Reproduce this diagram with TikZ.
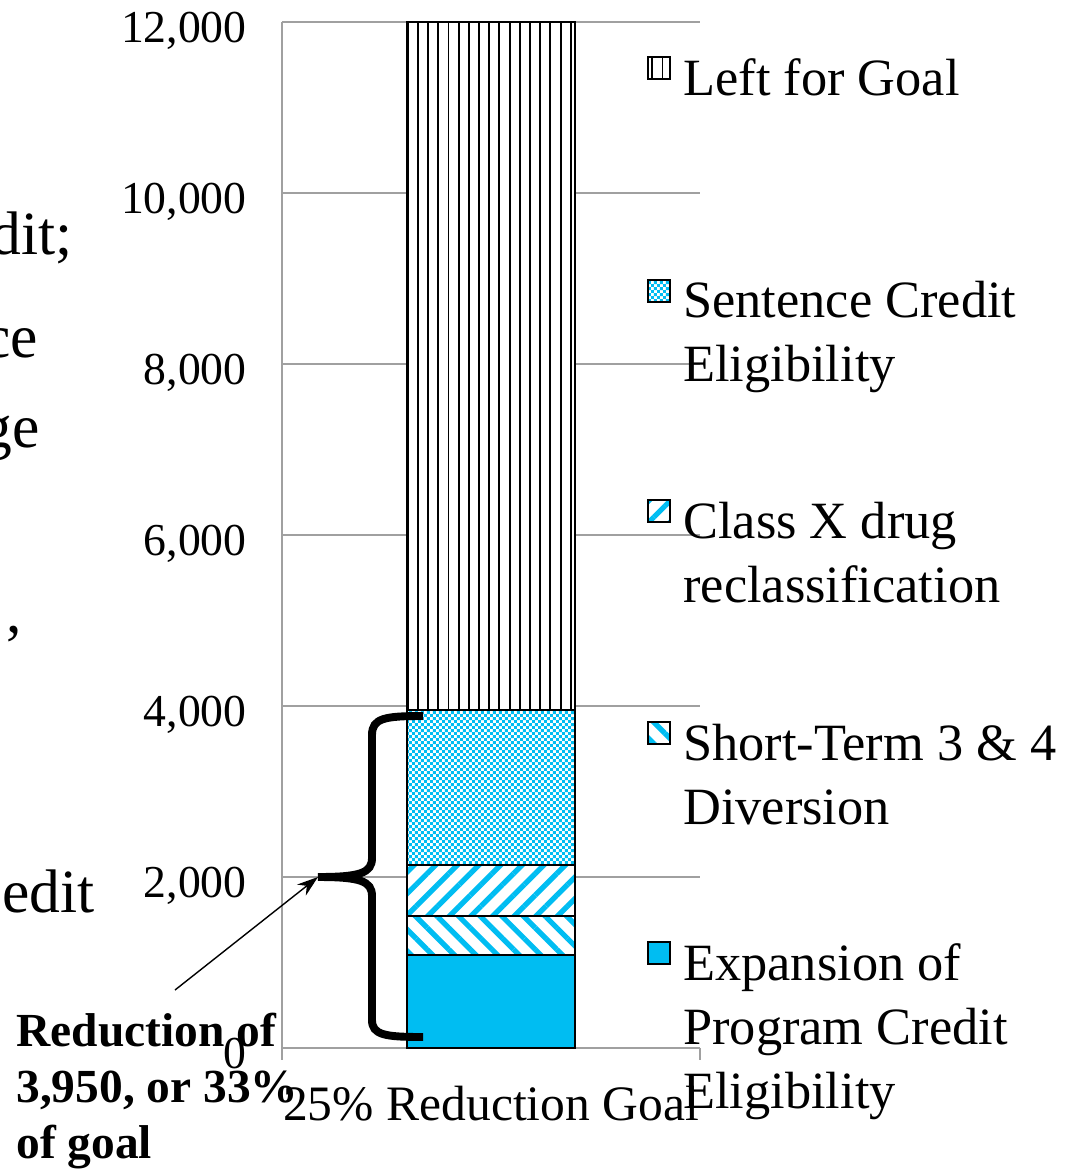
\documentclass[tikz,border=0pt]{standalone}
\usepackage{fontspec}
\setmainfont{Liberation Serif}
\usetikzlibrary{positioning, arrows.meta, patterns, patterns.meta, calc}
\definecolor{barcyan}{RGB}{0,189,242}
\definecolor{gridgray}{RGB}{160,160,160}
\pgfdeclarepatternformonly{finechecker}{\pgfpointorigin}{\pgfqpoint{3.4pt}{3.4pt}}{\pgfqpoint{3.4pt}{3.4pt}}{%
  \pgfpathrectangle{\pgfpointorigin}{\pgfqpoint{1.7pt}{1.7pt}}%
  \pgfpathrectangle{\pgfqpoint{1.7pt}{1.7pt}}{\pgfqpoint{1.7pt}{1.7pt}}%
  \pgfusepath{fill}}
\tikzset{
  gridline/.style={draw=gridgray, line width=1.1pt},
  barline/.style={draw=black, line width=1.1pt},
  leftfill/.style={preaction={fill=white}, pattern={Lines[angle=90, distance=5.8pt, line width=1.1pt]}, pattern color=black},
  sentfill/.style={preaction={fill=white}, pattern=finechecker, pattern color=barcyan},
  classfill/.style={preaction={fill=white}, pattern={Lines[angle=45, distance=8.7pt, line width=3pt]}, pattern color=barcyan},
  shortfill/.style={preaction={fill=white}, pattern={Lines[angle=-45, distance=8.7pt, line width=3pt]}, pattern color=barcyan},
  expfill/.style={fill=barcyan},
  swatch/.style={draw=black, line width=1pt, minimum size=12.5pt, inner sep=0pt},
  legtext/.style={anchor=base west, align=left, inner sep=0pt, font=\fontsize{29.8}{36.3}\selectfont},
  ticklab/.style={anchor=base east, inner sep=0pt, font=\fontsize{26}{31}\selectfont},
  notetext/.style={anchor=base west, align=left, inner sep=0pt, font=\fontsize{27}{31.7}\selectfont\bfseries},
  slidetext/.style={anchor=base east, inner sep=0pt, font=\fontsize{35}{42}\selectfont}
}

\begin{document}
\begin{tikzpicture}[x=0.2mm, y=-0.2mm]
  \useasboundingbox (0,0) rectangle (1075,1171);

  % Cut-off slide text at the left edge
  \node[slidetext] (frag1) at (73,255) {dit;};
  \node[slidetext] (frag2) at (38,357) {ce};
  \node[slidetext] (frag3) at (40,447) {ge};
  \node[slidetext] (frag4) at (22,632) {,};
  \node[slidetext] (frag5) at (95,912) {edit};

  % Gridlines and axes
  \foreach \v in {2000,4000,...,12000}
    \draw[gridline] (282,{1048-0.0855*\v}) -- (700,{1048-0.0855*\v});
  \draw[gridline] (282,22) -- (282,1060);
  \draw[gridline] (282,1048) -- (700,1048);
  \draw[gridline] (700,1048) -- (700,1060);

  % Tick labels
  \foreach \v/\lab in {0/0, 2000/{2,000}, 4000/{4,000}, 6000/{6,000}, 8000/{8,000}, 10000/{10,000}, 12000/{12,000}}
    \node[ticklab] (tick\v) at (247,{1068-0.0855*\v}) {\lab};
  \node[ticklab, anchor=base, font=\fontsize{28.2}{33}\selectfont] (catlab) at (491,1120) {25\% Reduction Goal};

  % Stacked bar
  \path[expfill] (407,1048) rectangle (575,{1048-0.0855*1090});
  \path[shortfill] (407,{1048-0.0855*1090}) rectangle (575,{1048-0.0855*1540});
  \path[classfill] (407,{1048-0.0855*1540}) rectangle (575,{1048-0.0855*2140});
  \path[sentfill] (407,{1048-0.0855*2140}) rectangle (575,{1048-0.0855*3950});
  \path[leftfill] (407,{1048-0.0855*3950}) rectangle (575,22);
  \foreach \lo/\hi in {0/1090, 1090/1540, 1540/2140, 2140/3950, 3950/12000}
    \draw[barline] (407,{1048-0.0855*\lo}) rectangle (575,{1048-0.0855*\hi});

  % Legend (base = last line)
  \node[swatch, leftfill] (sw1) at (659,68) {};
  \node[legtext] (leg1) at (683,96) {Left for Goal};
  \node[swatch, sentfill] (sw2) at (659,291) {};
  \node[legtext] (leg2) at (683,381) {Sentence Credit\\Eligibility};
  \node[swatch, classfill] (sw3) at (659,511) {};
  \node[legtext] (leg3) at (683,602) {Class X drug\\reclassification};
  \node[swatch, shortfill] (sw4) at (659,733) {};
  \node[legtext] (leg4) at (683,824) {Short-Term 3 \& 4\\Diversion};
  \node[swatch, expfill] (sw5) at (659,953) {};
  \node[legtext] (leg5) at (683,1108) {Expansion of\\Program Credit\\Eligibility};

  % Brace over the reduction and its note
  \coordinate (bracetip) at (318,877);
  \draw[line width=4.5pt] (423,716) .. controls (385,716) and (372,718) .. (372,735) -- (372,858)
    .. controls (372,873) and (360,877) .. (bracetip)
    .. controls (360,877) and (372,881) .. (372,896) -- (372,1020)
    .. controls (372,1035) and (385,1037) .. (423,1037);
  \node[notetext] (note) at (16,1158) {Reduction of\\3,950, or 33\%\\of goal};
  \coordinate (arrstart) at (175,990);
  \draw[line width=0.8pt, -{Stealth[length=12pt, width=8pt]}] (arrstart) -- (bracetip);
\end{tikzpicture}
\end{document}
